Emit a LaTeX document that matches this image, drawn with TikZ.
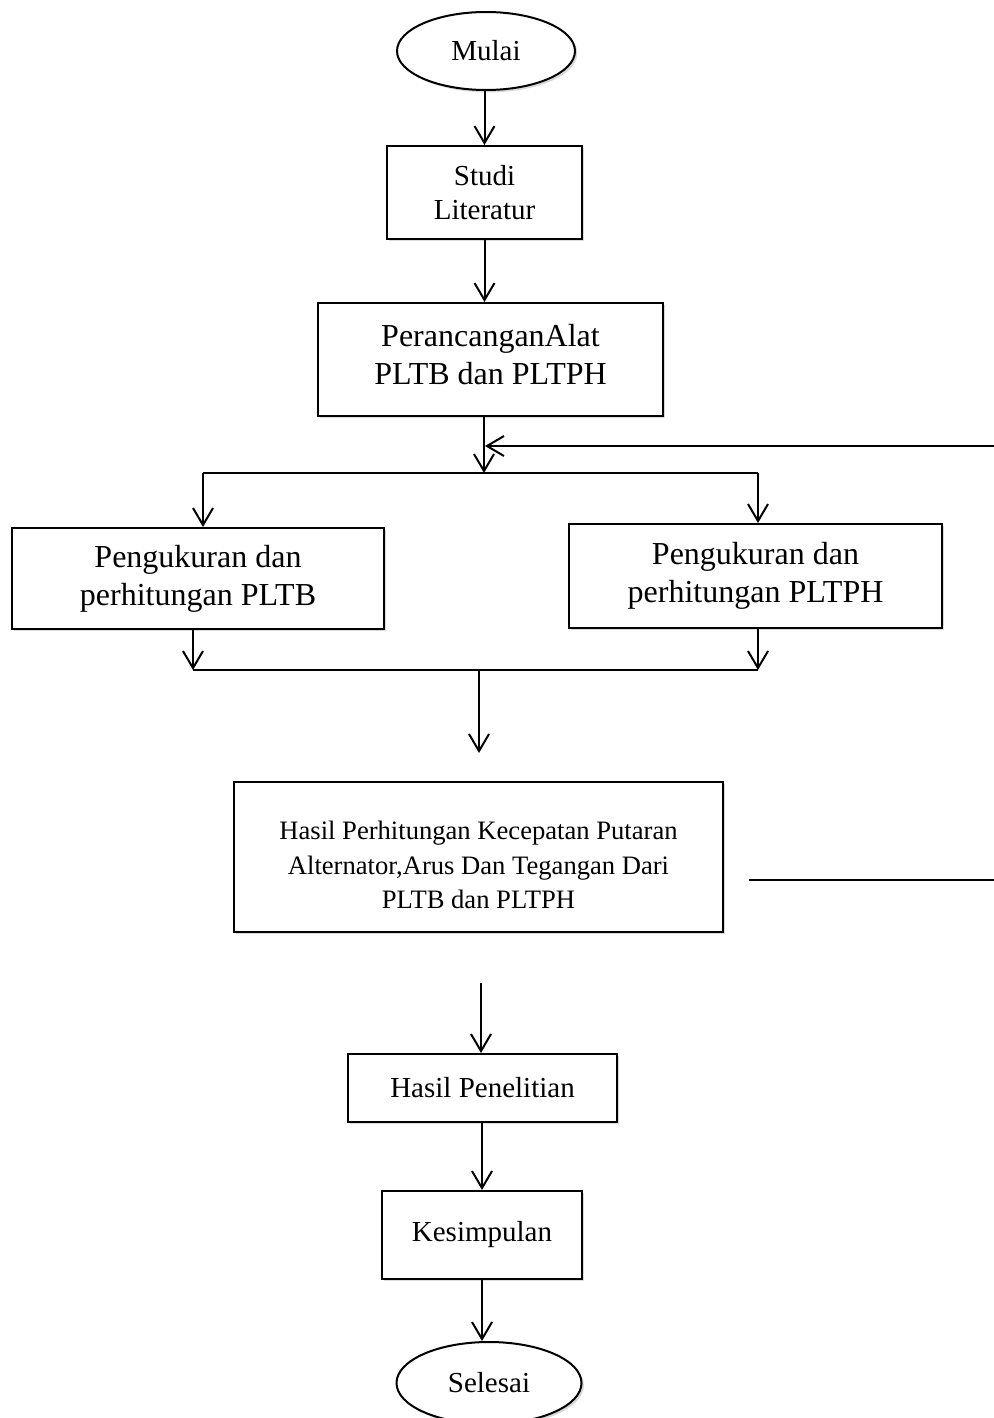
\documentclass[tikz,border=0pt]{standalone}
\usepackage{fontspec}
\setmainfont{Liberation Serif}
\usetikzlibrary{arrows.meta,shapes.geometric,shadows}
\begin{document}
\begin{tikzpicture}[x=0.5pt,y=-0.5pt,
  line width=1pt,
  arr/.style={-{Straight Barb[length=8.5pt,width=10pt,line width=1pt]}},
  shad/.style={drop shadow={shadow xshift=1.2pt,shadow yshift=-1.2pt,opacity=0.25,fill=black!60}},
  boxn/.style={draw, rectangle, shad, fill=white, align=center, inner sep=0pt, font=\fontsize{14.5}{17}\selectfont},
  term/.style={draw, ellipse, shad, fill=white, inner sep=0pt, font=\fontsize{14.5}{17}\selectfont},
  big/.style={font=\fontsize{16}{19}\selectfont},
  small/.style={font=\fontsize{13.3}{17.3}\selectfont}]
\useasboundingbox (0,0) rectangle (994,1418);
\node[term, minimum width=89pt, minimum height=39pt] (mulai) at (486,51) {Mulai};
\node[boxn, minimum width=97.5pt, minimum height=46.5pt] (studi) at (484.5,192.5) {Studi\\Literatur};
\node[boxn, big, minimum width=172.5pt, minimum height=56.5pt,
  label={[big, align=center, yshift=2.5pt]center:PerancanganAlat\\PLTB dan PLTPH}] (peran) at (490.5,359.5) {};
\node[boxn, big, minimum width=186pt, minimum height=50.5pt] (pltb) at (198,578.5) {Pengukuran dan\\perhitungan PLTB};
\node[boxn, big, minimum width=186.5pt, minimum height=52pt] (pltph) at (755.5,576) {Pengukuran dan\\perhitungan PLTPH};
\node[boxn, small, minimum width=244.5pt, minimum height=75pt,
  label={[small, align=center, yshift=-4pt]center:Hasil Perhitungan Kecepatan Putaran\\Alternator,Arus Dan Tegangan Dari\\PLTB dan PLTPH}] (hasil) at (478.5,857) {};
\node[boxn, minimum width=134.5pt, minimum height=34pt] (penel) at (482.5,1088) {Hasil Penelitian};
\node[boxn, minimum width=100pt, minimum height=44pt] (kesim) at (482,1235) {Kesimpulan};
\node[term, minimum width=92.5pt, minimum height=41pt] (selesai) at (489,1383) {Selesai};

\coordinate (jt) at (484,473);
\coordinate (jl) at (203,473);
\coordinate (jr) at (758,473);
\coordinate (fb) at (994,446);
\coordinate (fbt) at (485,446);
\coordinate (bl) at (193,670);
\coordinate (br) at (758,670);
\coordinate (bm) at (479,670);
\coordinate (bt) at (479,753);
\coordinate (r1) at (749,880);
\coordinate (r2) at (994,880);
\coordinate (h1) at (481,983);

\draw[arr] (mulai.south -| studi.north) -- (studi.north);
\draw[arr] (studi.south) -- (studi.south |- peran.north);
\draw[arr] (peran.south -| jt) -- (jt);
\draw (jl) -- (jr);
\draw[arr] (fb) -- (fbt);
\draw[arr] (jl) -- (jl |- pltb.north);
\draw[arr] (jr) -- (jr |- pltph.north);
\draw[arr] (pltb.south -| bl) -- (bl);
\draw[arr] (pltph.south -| br) -- (br);
\draw (bl) -- (br);
\draw[arr] (bm) -- (bt);
\draw (r1) -- (r2);
\draw[arr] (h1) -- (h1 |- penel.north);
\draw[arr] (penel.south -| kesim.north) -- (kesim.north);
\draw[arr] (kesim.south) -- (kesim.south |- selesai.north);
\end{tikzpicture}
\end{document}
